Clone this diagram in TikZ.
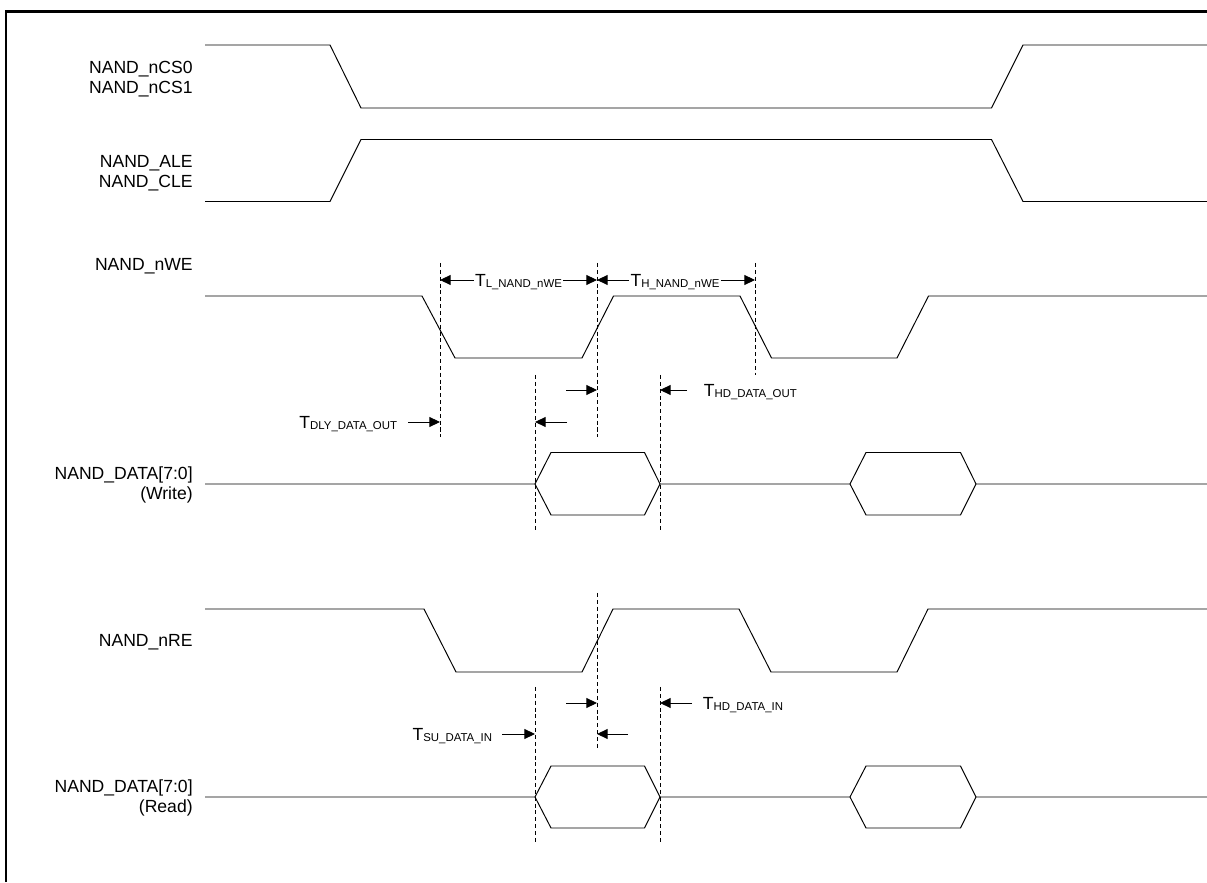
\documentclass[tikz,border=0pt]{standalone}
\usepackage{fontspec}
\setmainfont{Liberation Sans}
\usetikzlibrary{arrows.meta}
\newcommand{\Tsub}[1]{T\raisebox{-0.9pt}{\fontsize{6.5}{7}\selectfont #1}}

\begin{document}
\begin{tikzpicture}[
	waveline/.style={draw=black, line width=0.55pt, line join=miter},
	guideline/.style={draw=black, line width=0.5pt, dash pattern=on 2.3pt off 1.6pt},
	dimarrow/.style={draw=black, line width=0.5pt, -{Triangle[length=6pt,width=5.6pt]}},
	siglabel/.style={black, anchor=base east, align=right, inner sep=0pt, font=\fontsize{10}{11.4}\selectfont},
	timelabel/.style={black, inner xsep=0.6pt, inner ysep=0pt, text height=7.2pt, text depth=0pt, font=\fontsize{10}{12}\selectfont}
]
	\useasboundingbox (0,0) rectangle (24.14,17.64);
	\draw[draw=black, line width=1.3pt] (0.12,0.00) -- (0.12,17.41) -- (24.14,17.41);

	\node[siglabel] (ncs) at (3.86,15.76) {NAND\_nCS0\\NAND\_nCS1};
	\node[siglabel] (ale) at (3.86,13.89) {NAND\_ALE\\NAND\_CLE};
	\node[siglabel] (nwe) at (3.86,12.22) {NAND\_nWE};
	\node[siglabel] (dataw) at (3.86,7.64) {NAND\_DATA[7:0]\\(Write)};
	\node[siglabel] (nre) at (3.86,4.70) {NAND\_nRE};
	\node[siglabel] (datar) at (3.86,1.38) {NAND\_DATA[7:0]\\(Read)};

	\draw[waveline] (4.10,16.74) -- (6.60,16.74) -- (7.22,15.48) -- (19.83,15.48) -- (20.46,16.74) -- (24.14,16.74);
	\draw[waveline] (4.10,13.61) -- (6.60,13.61) -- (7.22,14.85) -- (19.83,14.85) -- (20.46,13.61) -- (24.14,13.61);
	\draw[waveline] (4.10,11.72) -- (8.44,11.72) -- (9.10,10.48) -- (11.64,10.48) -- (12.27,11.72) -- (14.80,11.72) -- (15.43,10.48) -- (17.94,10.48) -- (18.57,11.72) -- (24.14,11.72);
	\draw[waveline] (4.10,7.96) -- (10.70,7.96) -- (11.02,8.59) -- (12.89,8.59) -- (13.20,7.96) -- (17.00,7.96) -- (17.32,8.59) -- (19.21,8.59) -- (19.52,7.96) -- (24.14,7.96);
	\draw[waveline] (10.70,7.96) -- (11.02,7.34) -- (12.89,7.34) -- (13.20,7.96);
	\draw[waveline] (17.00,7.96) -- (17.32,7.34) -- (19.21,7.34) -- (19.52,7.96);
	\draw[waveline] (4.10,5.46) -- (8.48,5.46) -- (9.12,4.20) -- (11.64,4.20) -- (12.26,5.46) -- (14.78,5.46) -- (15.42,4.20) -- (17.94,4.20) -- (18.56,5.46) -- (24.14,5.46);
	\draw[waveline] (4.10,1.70) -- (10.70,1.70) -- (11.02,2.32) -- (12.89,2.32) -- (13.20,1.70) -- (17.00,1.70) -- (17.32,2.32) -- (19.21,2.32) -- (19.52,1.70) -- (24.14,1.70);
	\draw[waveline] (10.70,1.70) -- (11.02,1.08) -- (12.89,1.08) -- (13.20,1.70);
	\draw[waveline] (17.00,1.70) -- (17.32,1.08) -- (19.21,1.08) -- (19.52,1.70);

	\coordinate (gWa) at (8.80,12.38);
	\coordinate (gWb) at (11.94,12.38);
	\coordinate (gWc) at (15.10,12.38);
	\coordinate (gWd) at (10.70,10.14);
	\coordinate (gWe) at (13.20,10.14);
	\coordinate (gRb) at (11.94,5.78);
	\coordinate (gRd) at (10.70,3.90);
	\coordinate (gRe) at (13.20,3.90);
	\draw[guideline] (gWa) -- ++(0,-3.48);
	\draw[guideline] (gWb) -- ++(0,-3.48);
	\draw[guideline] (gWc) -- ++(0,-2.24);
	\draw[guideline] (gWd) -- ++(0,-3.14);
	\draw[guideline] (gWe) -- ++(0,-3.14);
	\draw[guideline] (gRb) -- ++(0,-3.14);
	\draw[guideline] (gRd) -- ++(0,-3.10);
	\draw[guideline] (gRe) -- ++(0,-3.10);

	\node[timelabel] (tlow) at (10.37,12.04) {\Tsub{L\_NAND\_nWE}};
	\node[timelabel] (thigh) at (13.50,12.04) {\Tsub{H\_NAND\_nWE}};
	\draw[dimarrow] (tlow) -- (tlow -| gWa);
	\draw[dimarrow] (tlow) -- (tlow -| gWb);
	\draw[dimarrow] (thigh) -- (thigh -| gWb);
	\draw[dimarrow] (thigh) -- (thigh -| gWc);

	\node[timelabel, anchor=west] (thdout) at (14.05,9.84) {\Tsub{HD\_DATA\_OUT}};
	\coordinate (hoA) at (11.32,9.84);
	\coordinate (hoC) at (13.74,9.84);
	\draw[dimarrow] (hoA) -- (hoA -| gWb);
	\draw[dimarrow] (hoC) -- (hoC -| gWe);

	\node[timelabel, anchor=east] (tdly) at (7.97,9.20) {\Tsub{DLY\_DATA\_OUT}};
	\coordinate (dlA) at (8.16,9.20);
	\coordinate (dlC) at (11.34,9.20);
	\draw[dimarrow] (dlA) -- (dlA -| gWa);
	\draw[dimarrow] (dlC) -- (dlC -| gWd);

	\node[timelabel, anchor=west] (thdin) at (14.03,3.58) {\Tsub{HD\_DATA\_IN}};
	\coordinate (hiA) at (11.32,3.58);
	\coordinate (hiC) at (13.84,3.58);
	\draw[dimarrow] (hiA) -- (hiA -| gRb);
	\draw[dimarrow] (hiC) -- (hiC -| gRe);

	\node[timelabel, anchor=east] (tsu) at (9.87,2.96) {\Tsub{SU\_DATA\_IN}};
	\coordinate (suA) at (10.04,2.96);
	\coordinate (suC) at (12.56,2.96);
	\draw[dimarrow] (suA) -- (suA -| gRd);
	\draw[dimarrow] (suC) -- (suC -| gRb);
\end{tikzpicture}
\end{document}
